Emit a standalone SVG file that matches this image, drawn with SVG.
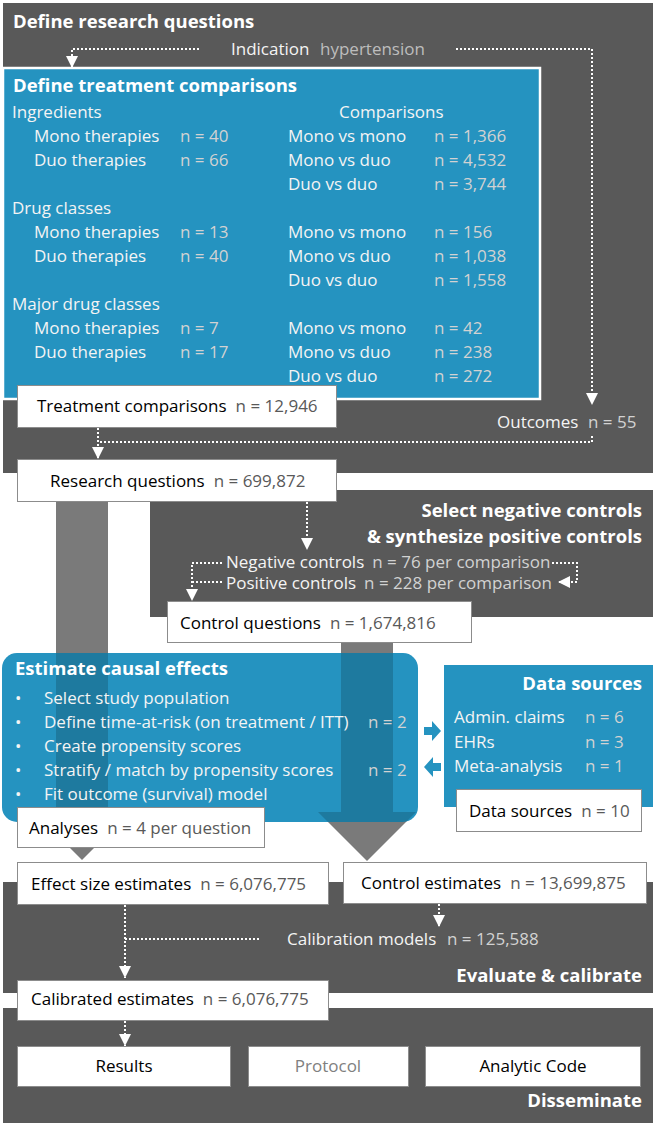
<svg xmlns="http://www.w3.org/2000/svg" width="655" height="1126" viewBox="0 0 655 1126">
<defs>
<style>
.panel{fill:#595959}
.blue{fill:#2593c0}
.box{fill:#fff;stroke:#8c8c8c;stroke-width:1}
text{font-family:"Open Sans","Liberation Sans",sans-serif;font-size:17px}
.ttl{font-weight:bold;font-size:18.5px;fill:#fff}
.end{text-anchor:end}
.mid{text-anchor:middle}
.lb{fill:#f4f4f4}
.nv{fill:#d2d2d2}
.hy{fill:#bdbdbd}
.bk{fill:#000}
.gy{fill:#595959}
.pr{fill:#808080}
.dot{fill:none;stroke:#fff;stroke-width:2;stroke-dasharray:2 2}
.big{fill:#7a7a7a}
.shade{fill:#000;fill-opacity:0.17}
.barrow{fill:#2593c0}
</style>
<marker id="ah" viewBox="0 0 12 12" markerWidth="12" markerHeight="12" refX="12" refY="6" orient="auto" markerUnits="userSpaceOnUse">
<path d="M0,0 L12,6 L0,12 Z" fill="#fff"/>
</marker>
<clipPath id="estclip"><rect x="2" y="653" width="416" height="169" rx="15"/></clipPath>
</defs>
<rect width="655" height="1126" fill="#fff"/>

<g id="panel-define">
<rect class="panel" x="3" y="3" width="650" height="470"/>
<text class="ttl" x="13" y="28">Define research questions</text>
<text class="lb" x="231" y="55">Indication</text>
<text class="hy" x="320" y="55">hypertension</text>
<text class="lb" x="497" y="428">Outcomes</text>
<text class="nv" x="588" y="428">n = 55</text>
</g>

<g id="panel-controls">
<rect class="panel" x="150" y="490" width="503" height="127"/>
<text class="ttl end" x="642" y="517">Select negative controls</text>
<text class="ttl end" x="642" y="543">&amp; synthesize positive controls</text>
<text class="lb" x="226" y="568">Negative controls<tspan class="nv" dx="8">n = 76 per comparison</tspan></text>
<text class="lb" x="226" y="589">Positive controls<tspan class="nv" dx="8">n = 228 per comparison</tspan></text>
</g>

<g id="panel-evaluate">
<rect class="panel" x="3" y="882" width="650" height="111"/>
<text class="lb" x="287" y="945">Calibration models</text>
<text class="nv" x="447" y="945">n = 125,588</text>
<text class="ttl end" x="642" y="982">Evaluate &amp; calibrate</text>
</g>

<g id="panel-disseminate">
<rect class="panel" x="3" y="1008" width="650" height="115"/>
<text class="ttl end" x="642" y="1107">Disseminate</text>
</g>

<g id="treatment-comparisons-panel">
<rect class="blue" x="3" y="68" width="537" height="331" stroke="#fff" stroke-width="2.5"/>
<text class="ttl" x="13" y="92">Define treatment comparisons</text>
<text class="lb" x="12" y="118">Ingredients</text>
<text class="lb" x="339" y="118">Comparisons</text>
<text class="lb" x="34" y="142">Mono therapies</text><text class="nv" x="180" y="142">n = 40</text>
<text class="lb" x="288" y="142">Mono vs mono</text><text class="nv" x="434" y="142">n = 1,366</text>
<text class="lb" x="34" y="166">Duo therapies</text><text class="nv" x="180" y="166">n = 66</text>
<text class="lb" x="288" y="166">Mono vs duo</text><text class="nv" x="434" y="166">n = 4,532</text>
<text class="lb" x="288" y="190">Duo vs duo</text><text class="nv" x="434" y="190">n = 3,744</text>
<text class="lb" x="12" y="214">Drug classes</text>
<text class="lb" x="34" y="238">Mono therapies</text><text class="nv" x="180" y="238">n = 13</text>
<text class="lb" x="288" y="238">Mono vs mono</text><text class="nv" x="434" y="238">n = 156</text>
<text class="lb" x="34" y="262">Duo therapies</text><text class="nv" x="180" y="262">n = 40</text>
<text class="lb" x="288" y="262">Mono vs duo</text><text class="nv" x="434" y="262">n = 1,038</text>
<text class="lb" x="288" y="286">Duo vs duo</text><text class="nv" x="434" y="286">n = 1,558</text>
<text class="lb" x="12" y="310">Major drug classes</text>
<text class="lb" x="34" y="334">Mono therapies</text><text class="nv" x="180" y="334">n = 7</text>
<text class="lb" x="288" y="334">Mono vs mono</text><text class="nv" x="434" y="334">n = 42</text>
<text class="lb" x="34" y="358">Duo therapies</text><text class="nv" x="180" y="358">n = 17</text>
<text class="lb" x="288" y="358">Mono vs duo</text><text class="nv" x="434" y="358">n = 238</text>
<text class="lb" x="288" y="382">Duo vs duo</text><text class="nv" x="434" y="382">n = 272</text>
</g>

<g id="big-arrows">
<path class="big" d="M56,502 H108 V812 H130 L82,860 L34,812 H56 Z"/>
<path class="big" d="M341,643 H393 V812 H416 L367,861 L318,812 H341 Z"/>
</g>

<g id="estimate-causal-effects">
<rect class="blue" x="2" y="653" width="416" height="169" rx="15"/>
<g clip-path="url(#estclip)">
<path class="shade" d="M56,502 H108 V812 H130 L82,860 L34,812 H56 Z"/>
<path class="shade" d="M341,643 H393 V812 H416 L367,861 L318,812 H341 Z"/>
</g>
<text class="ttl" x="15" y="675">Estimate causal effects</text>
<text class="lb" x="15" y="704">•</text><text class="lb" x="44" y="704">Select study population</text>
<text class="lb" x="15" y="728">•</text><text class="lb" x="44" y="728">Define time-at-risk (on treatment / ITT)</text><text class="nv" x="368" y="728">n = 2</text>
<text class="lb" x="15" y="752">•</text><text class="lb" x="44" y="752">Create propensity scores</text>
<text class="lb" x="15" y="776">•</text><text class="lb" x="44" y="776">Stratify / match by propensity scores</text><text class="nv" x="368" y="776">n = 2</text>
<text class="lb" x="15" y="800">•</text><text class="lb" x="44" y="800">Fit outcome (survival) model</text>
</g>

<g id="data-sources">
<rect class="blue" x="444" y="665" width="209" height="142"/>
<text class="ttl end" x="642" y="690">Data sources</text>
<text class="lb" x="454" y="723">Admin. claims</text><text class="nv" x="585" y="723">n = 6</text>
<text class="lb" x="454" y="748">EHRs</text><text class="nv" x="585" y="748">n = 3</text>
<text class="lb" x="454" y="772">Meta-analysis</text><text class="nv" x="585" y="772">n = 1</text>
</g>

<g id="box-treatment-comparisons">
<rect class="box" x="17.5" y="385.5" width="319" height="42"/>
<text class="bk" x="37" y="412">Treatment comparisons<tspan class="gy" dx="9">n = 12,946</tspan></text>
</g>
<g id="box-research-questions">
<rect class="box" x="17.5" y="459.5" width="319" height="42"/>
<text class="bk" x="50" y="487">Research questions<tspan class="gy" dx="9">n = 699,872</tspan></text>
</g>
<g id="box-control-questions">
<rect class="box" x="167.5" y="601.5" width="304" height="41"/>
<text class="bk" x="180" y="629">Control questions<tspan class="gy" dx="9">n = 1,674,816</tspan></text>
</g>
<g id="box-data-sources">
<rect class="box" x="456.5" y="789.5" width="185" height="42"/>
<text class="bk" x="469" y="817">Data sources<tspan class="gy" dx="9">n = 10</tspan></text>
</g>
<g id="box-analyses">
<rect class="box" x="17.5" y="807.5" width="247" height="40"/>
<text class="bk" x="29" y="834">Analyses<tspan class="gy" dx="9">n = 4 per question</tspan></text>
</g>
<g id="box-effect-size">
<rect class="box" x="17.5" y="862.5" width="311" height="42"/>
<text class="bk" x="31" y="890">Effect size estimates<tspan class="gy" dx="9">n = 6,076,775</tspan></text>
</g>
<g id="box-control-estimates">
<rect class="box" x="343.5" y="862.5" width="303" height="41"/>
<text class="bk" x="361" y="889">Control estimates<tspan class="gy" dx="9">n = 13,699,875</tspan></text>
</g>
<g id="box-calibrated">
<rect class="box" x="17.5" y="980.5" width="311" height="40"/>
<text class="bk" x="31" y="1005">Calibrated estimates<tspan class="gy" dx="9">n = 6,076,775</tspan></text>
</g>
<g id="box-results">
<rect class="box" x="17.5" y="1046.5" width="213" height="40"/>
<text class="bk mid" x="124" y="1072">Results</text>
</g>
<g id="box-protocol">
<rect class="box" x="248.5" y="1046.5" width="160" height="40"/>
<text class="pr mid" x="328" y="1072">Protocol</text>
</g>
<g id="box-analytic-code">
<rect class="box" x="425.5" y="1046.5" width="215" height="40"/>
<text class="bk mid" x="533" y="1072">Analytic Code</text>
</g>

<g id="connectors">
<path class="dot" d="M199,49 H72 V68" marker-end="url(#ah)"/>
<path class="dot" d="M456,49 H592 V405" marker-end="url(#ah)"/>
<path class="dot" d="M592,436 V442 H98"/>
<path class="dot" d="M98,428 V459" marker-end="url(#ah)"/>
<path class="dot" d="M307,502 V550" marker-end="url(#ah)"/>
<path class="dot" d="M222,563 H192 V601" marker-end="url(#ah)"/>
<path class="dot" d="M222,582 H192"/>
<path class="dot" d="M552,563 H577 V582 H558" marker-end="url(#ah)"/>
<path class="dot" d="M439,904 V927" marker-end="url(#ah)"/>
<path class="dot" d="M125,905 V978" marker-end="url(#ah)"/>
<path class="dot" d="M259,939 H125"/>
<path class="dot" d="M125,1021 V1046" marker-end="url(#ah)"/>
<path class="barrow" d="M424,727 H432 V721 L441,731 L432,741 V735 H424 Z"/>
<path class="barrow" d="M441,763 H433 V757 L424,767 L433,777 V771 H441 Z"/>
</g>
</svg>
